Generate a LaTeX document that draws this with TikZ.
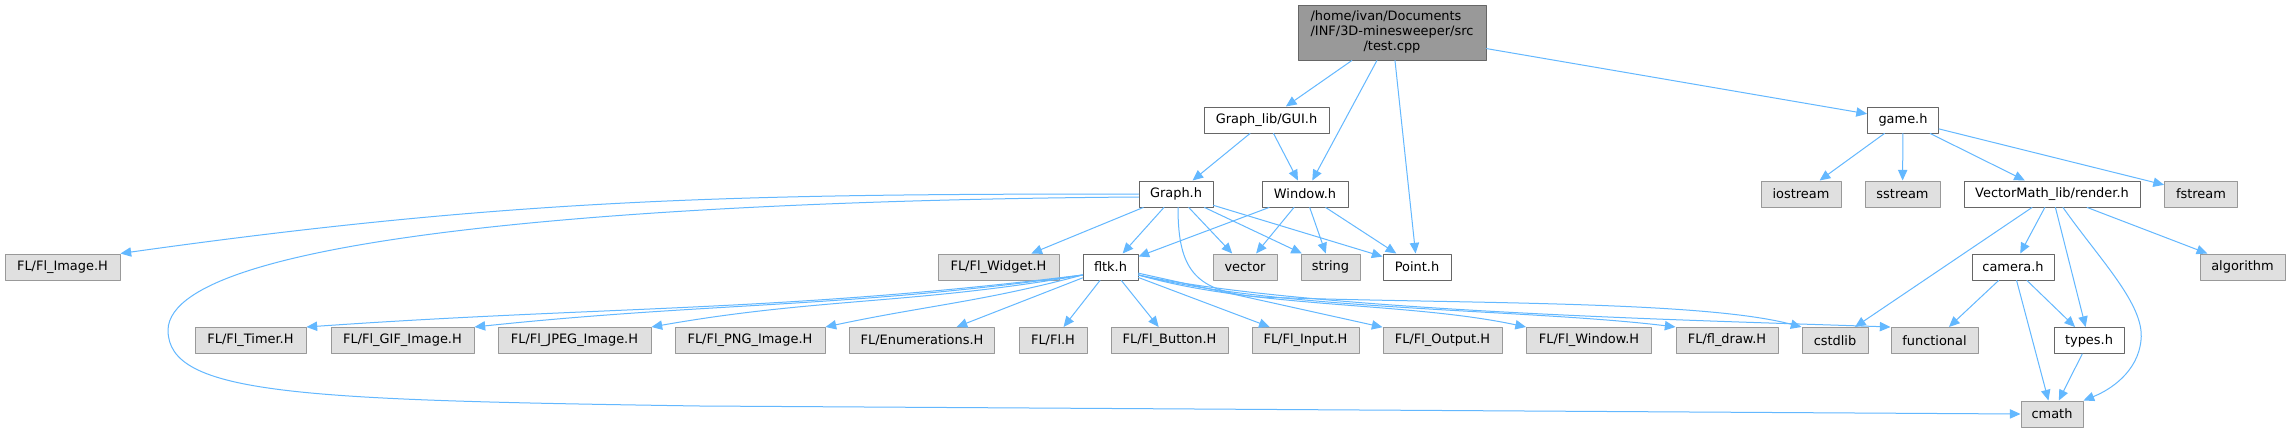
\documentclass[tikz,border=0pt]{standalone}
\usepackage{fontspec}
\setmainfont{DejaVu Sans}
\usetikzlibrary{arrows.meta}
\usetikzlibrary{calc}
\definecolor{IncludeBlue}{RGB}{99,184,255}
\definecolor{GraphSysFill}{RGB}{224,224,224}
\definecolor{GraphBorderLight}{RGB}{153,153,153}
\definecolor{GraphBorderDark}{RGB}{102,102,102}
\definecolor{GraphRootFill}{RGB}{153,153,153}

\begin{document}
\begin{tikzpicture}[x=0.75pt,y=-0.75pt,line cap=round,line join=round]
  \path[use as bounding box] (0,0) rectangle (2291,432);
  \fill[white] (0,0) rectangle (2291,432);

  \tikzset{
    filebox/.style={rectangle,inner sep=0pt,minimum height=19.5pt,line width=0.75pt,
      text=black,font=\fontsize{9.7pt}{11.25pt}\selectfont},
    rootfile/.style={filebox,draw=GraphBorderDark,fill=GraphRootFill,
      minimum height=41.25pt,align=center},
    localfile/.style={filebox,draw=GraphBorderDark,fill=white},
    sysfile/.style={filebox,draw=GraphBorderLight,fill=GraphSysFill},
    wd/.style={minimum width=#1*0.75pt},
    incl/.style={-{Triangle[length=8pt,width=7pt]},line width=0.75pt,draw=IncludeBlue},
  }

  % ==================== FILES ====================
  \node[rootfile,wd=188] (test) at (1392,32.5) {\begin{tabular}{@{}l@{}}/home/ivan/Documents\\
    /INF/3D-minesweeper/src\\\multicolumn{1}{@{}c@{}}{/test.cpp}\end{tabular}};

  \node[localfile,wd=125] (gui) at (1266.5,120) {Graph\_lib/GUI.h};
  \node[localfile,wd=71] (game) at (1903,120) {game.h};

  \node[localfile,wd=74] (graph) at (1176,194) {Graph.h};
  \node[localfile,wd=86] (window) at (1305,194) {Window.h};
  \node[sysfile,wd=80] (iostream) at (1801,194) {iostream};
  \node[sysfile,wd=75] (sstream) at (1902.5,194) {sstream};
  \node[localfile,wd=176] (render) at (2052,194) {VectorMath\_lib/render.h};
  \node[sysfile,wd=73] (fstream) at (2201,194) {fstream};

  \node[sysfile,wd=115] (flimage) at (62.5,267) {FL/Fl\_Image.H};
  \node[sysfile,wd=121] (flwidget) at (998.5,267) {FL/Fl\_Widget.H};
  \node[localfile,wd=55] (fltk) at (1110.5,267) {fltk.h};
  \node[sysfile,wd=64] (vector) at (1245,267) {vector};
  \node[sysfile,wd=59] (string) at (1330.5,267) {string};
  \node[localfile,wd=68] (point) at (1417,267) {Point.h};
  \node[localfile,wd=82] (camera) at (2013,267) {camera.h};
  \node[sysfile,wd=85] (algorithm) at (2242.5,267) {algorithm};

  \node[sysfile,wd=111] (timer) at (250.5,340.5) {FL/Fl\_Timer.H};
  \node[sysfile,wd=143] (gif) at (402.5,340.5) {FL/Fl\_GIF\_Image.H};
  \node[sysfile,wd=153] (jpeg) at (574.5,340.5) {FL/Fl\_JPEG\_Image.H};
  \node[sysfile,wd=150] (png) at (750,340.5) {FL/Fl\_PNG\_Image.H};
  \node[sysfile,wd=145] (enums) at (922,340.5) {FL/Enumerations.H};
  \node[sysfile,wd=68] (flh) at (1053,340.5) {FL/Fl.H};
  \node[sysfile,wd=117] (button) at (1169.5,340.5) {FL/Fl\_Button.H};
  \node[sysfile,wd=107] (input) at (1305.5,340.5) {FL/Fl\_Input.H};
  \node[sysfile,wd=119] (output) at (1442.5,340.5) {FL/Fl\_Output.H};
  \node[sysfile,wd=125] (flwindow) at (1589,340.5) {FL/Fl\_Window.H};
  \node[sysfile,wd=102] (fldraw) at (1727,340.5) {FL/fl\_draw.H};
  \node[sysfile,wd=66] (cstdlib) at (1835,340.5) {cstdlib};
  \node[sysfile,wd=87] (functional) at (1934.5,340.5) {functional};
  \node[localfile,wd=70] (types) at (2089,340.5) {types.h};

  \node[sysfile,wd=62] (cmath) at (2052,414) {cmath};

  % ==================== test.cpp ====================
  \draw[incl] (test) -- (gui);
  \draw[incl] (test) -- (window);
  \draw[incl] (test) -- (point);
  \draw[incl] (test) -- (game);

  % ==================== GUI.h ====================
  \draw[incl] (gui) -- (graph);
  \draw[incl] (gui) -- (window);

  % ==================== Graph.h ====================
  \draw[incl] (graph.west) to[out=180,in=8] (flimage.north east);
  \draw[incl] ($(graph.west)+(0,3)$) .. controls (700,200) and (170,230) .. (168,330)
    .. controls (168,395) and (300,400) .. (700,406) -- (cmath.west);
  \draw[incl] (graph) -- (flwidget);
  \draw[incl] (graph) -- (fltk);
  \draw[incl] (graph) -- (vector);
  \draw[incl] (graph) -- (string);
  \draw[incl] (graph) -- (point);
  \draw[incl] ($(graph.south)+(2,0)$) .. controls (1178,270) and (1195,292) .. (1260,297)
    .. controls (1450,304) and (1700,300) .. (cstdlib.north west);

  % ==================== Window.h ====================
  \draw[incl] (window) -- (fltk);
  \draw[incl] (window) -- (vector);
  \draw[incl] (window) -- (string);
  \draw[incl] (window) -- (point);

  % ==================== fltk.h ====================
  \draw[incl] ($(fltk.west)+(0,8)$) to[out=187,in=4] (timer.north east);
  \draw[incl] ($(fltk.west)+(0,8)$) to[out=188,in=6] (gif.north east);
  \draw[incl] ($(fltk.west)+(0,8)$) to[out=190,in=10] (jpeg.north east);
  \draw[incl] ($(fltk.west)+(0,8)$) to[out=195,in=12] (png.north east);
  \draw[incl] (fltk) -- (enums);
  \draw[incl] (fltk) -- (flh);
  \draw[incl] (fltk) -- (button);
  \draw[incl] (fltk) -- (input);
  \draw[incl] (fltk) -- (output);
  \draw[incl] ($(fltk.east)+(0,8)$) to[out=-16,in=168,looseness=0.8] (flwindow.north west);
  \draw[incl] ($(fltk.east)+(0,8)$) to[out=-14,in=173,looseness=0.7] (fldraw.north west);
  \draw[incl] ($(fltk.east)+(0,8)$) to[out=-12,in=178,looseness=0.6] (functional.north west);

  % ==================== game.h ====================
  \draw[incl] (game) -- (iostream);
  \draw[incl] (game) -- (sstream);
  \draw[incl] (game) -- (render);
  \draw[incl] (game) -- (fstream);

  % ==================== render.h ====================
  \draw[incl] (render) -- (cstdlib);
  \draw[incl] (render) -- (camera);
  \draw[incl] (render) -- (types);
  \draw[incl] ($(render.south)+(11,0)$) .. controls (2100,260) and (2145,305) .. (2141,340)
    .. controls (2138,372) and (2110,390) .. (cmath.north east);
  \draw[incl] (render) -- (algorithm);

  % ==================== camera.h / types.h ====================
  \draw[incl] (camera) -- (functional);
  \draw[incl] (camera) -- (cmath);
  \draw[incl] (camera) -- (types);
  \draw[incl] (types) -- (cmath);

\end{tikzpicture}
\end{document}
